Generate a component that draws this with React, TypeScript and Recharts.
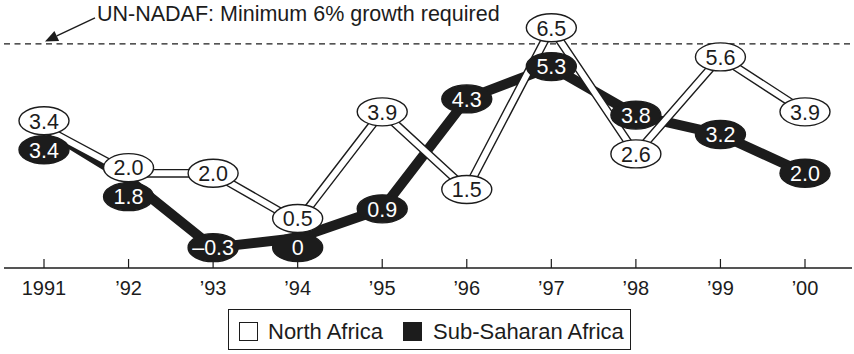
import React from 'react';
import { LineChart, Line, XAxis, YAxis, ReferenceLine, LabelList } from 'recharts';

// ---- data -------------------------------------------------------------
const years = ['1991', '\u201992', '\u201993', '\u201994', '\u201995', '\u201996', '\u201997', '\u201998', '\u201999', '\u201900'];
const northAfrica = [3.4, 2.0, 2.0, 0.5, 3.9, 1.5, 6.5, 2.6, 5.6, 3.9];
const subSaharanAfrica = [3.4, 1.8, -0.3, 0, 0.9, 4.3, 5.3, 3.8, 3.2, 2.0];
const seriesNames = ['North Africa', 'Sub-Saharan Africa'];
const targetGrowth = 6;
const targetNote = 'UN-NADAF: Minimum 6% growth required';

const data = years.map((year, i) => ({
  year,
  north: northAfrica[i],
  sub: subSaharanAfrica[i],
}));

// ---- layout / style ---------------------------------------------------
const FONT = '"Liberation Sans", Arial, Helvetica, sans-serif';
const INK = '#1c1c1c';
const CHART_W = 854;
const CHART_H = 310;
const MARGIN = { top: 0, right: 2, bottom: 0, left: 4 };
const X_AXIS_H = 42;
const Y_DOMAIN: [number, number] = [-0.93, 7.36];
const PLOT_H = CHART_H - MARGIN.top - MARGIN.bottom - X_AXIS_H;
const PX_PER_UNIT = PLOT_H / (Y_DOMAIN[1] - Y_DOMAIN[0]);

const fmt = (v: number) =>
  v === 0 ? '0' : (v < 0 ? '\u2013' : '') + Math.abs(v).toFixed(1);

// Vertical nudge so the two value badges of one year don't sit on each other.
const BADGE_GAP = 29;
function badgeShift(index: number, series: 'north' | 'sub'): number {
  const n = northAfrica[index];
  const s = subSaharanAfrica[index];
  if (n === undefined || s === undefined) return 0;
  const sep = Math.abs(n - s) * PX_PER_UNIT;
  if (sep >= BADGE_GAP) return 0;
  const need = BADGE_GAP - sep;
  const northIsUpper = n >= s;
  const isUpper = series === 'north' ? northIsUpper : !northIsUpper;
  return isUpper ? -need / 4 : (3 * need) / 4;
}

const Badge = (props: any) => {
  const { value, index, dark, series } = props;
  const vb = props.viewBox;
  const x = vb && typeof vb.x === 'number' ? vb.x + (vb.width || 0) / 2 : props.x;
  const y0 = vb && typeof vb.y === 'number' ? vb.y + (vb.height || 0) / 2 : props.y;
  if (typeof x !== 'number' || typeof y0 !== 'number') return null;
  const y = y0 + badgeShift(index, series);
  return (
    <g>
      <ellipse
        cx={x}
        cy={y}
        rx={25}
        ry={14}
        fill={dark ? INK : '#fff'}
        stroke={INK}
        strokeWidth={1.4}
      />
      <text
        x={x}
        y={y}
        dy="0.36em"
        textAnchor="middle"
        fontSize={21.5}
        fontFamily={FONT}
        fill={dark ? '#fff' : INK}
      >
        {fmt(Number(value))}
      </text>
    </g>
  );
};

const YearTick = (props: any) => {
  const { x, y, payload } = props;
  return (
    <g>
      <line x1={x} x2={x} y1={y - 9} y2={y} stroke={INK} strokeWidth={1.2} />
      <text
        x={x}
        y={y + 27}
        textAnchor="middle"
        fontSize={20}
        fontFamily={FONT}
        fill={INK}
      >
        {payload.value}
      </text>
    </g>
  );
};

// Note with an arrow pointing at the target line.
const TargetNote = (props: any) => {
  const vb = props.viewBox || {};
  const lx = typeof vb.x === 'number' ? vb.x : MARGIN.left;
  const ly = typeof vb.y === 'number' ? vb.y : 44;
  const tip = { x: lx + 41, y: ly - 2.5 };
  const tail = { x: lx + 91, y: ly - 26 };
  const dx = tip.x - tail.x;
  const dy = tip.y - tail.y;
  const len = Math.hypot(dx, dy);
  const ux = dx / len;
  const uy = dy / len;
  const headLen = 13;
  const headHalf = 5.5;
  const bx = tip.x - ux * headLen;
  const by = tip.y - uy * headLen;
  const px = -uy * headHalf;
  const py = ux * headHalf;
  return (
    <g>
      <line x1={tail.x} y1={tail.y} x2={bx} y2={by} stroke={INK} strokeWidth={1.4} />
      <polygon
        points={`${tip.x},${tip.y} ${bx + px},${by + py} ${bx - px},${by - py}`}
        fill={INK}
      />
      <text
        x={lx + 93}
        y={ly - 23.3}
        fontSize={21.5}
        fontFamily={FONT}
        fill={INK}
      >
        {props.text}
      </text>
    </g>
  );
};

const legendItems = [
  { name: seriesNames[0], fill: '#fff', left: 10, textLeft: 39 },
  { name: seriesNames[1], fill: INK, left: 174, textLeft: 204 },
];

export default function App() {
  return (
    <div
      style={{
        position: 'absolute',
        left: 0,
        top: 0,
        width: 854,
        height: 354,
        background: '#fff',
        overflow: 'hidden',
      }}
    >
      <LineChart width={CHART_W} height={CHART_H} data={data} margin={MARGIN}>
        <XAxis
          dataKey="year"
          interval={0}
          height={X_AXIS_H}
          padding={{ left: 40, right: 47 }}
          axisLine={{ stroke: INK, strokeWidth: 1.6 }}
          tickLine={false}
          tickSize={0}
          tickMargin={0}
          tick={<YearTick />}
        />
        <YAxis
          type="number"
          domain={Y_DOMAIN}
          allowDataOverflow
          width={0}
          tick={false}
          tickLine={false}
          axisLine={{ stroke: INK, strokeWidth: 1.5 }}
        />
        <ReferenceLine
          y={targetGrowth}
          stroke={INK}
          strokeWidth={1.3}
          strokeDasharray="6 4.5"
          label={<TargetNote text={targetNote} />}
        />
        {/* Sub-Saharan Africa: heavy black line */}
        <Line
          dataKey="sub"
          stroke={INK}
          strokeWidth={10}
          strokeLinejoin="round"
          dot={false}
          activeDot={false}
          isAnimationActive={false}
        />
        {/* North Africa: outlined white line */}
        <Line
          dataKey="north"
          stroke={INK}
          strokeWidth={8.8}
          strokeLinejoin="miter"
          dot={false}
          activeDot={false}
          isAnimationActive={false}
        />
        <Line
          dataKey="north"
          stroke="#fff"
          strokeWidth={6}
          strokeLinejoin="miter"
          dot={false}
          activeDot={false}
          isAnimationActive={false}
        />
        {/* value badges above all lines */}
        <Line
          dataKey="sub"
          stroke="none"
          dot={false}
          activeDot={false}
          isAnimationActive={false}
        >
          <LabelList dataKey="sub" content={(p: any) => <Badge {...p} dark series="sub" />} />
        </Line>
        <Line
          dataKey="north"
          stroke="none"
          dot={false}
          activeDot={false}
          isAnimationActive={false}
        >
          <LabelList dataKey="north" content={(p: any) => <Badge {...p} series="north" />} />
        </Line>
      </LineChart>

      <div
        style={{
          position: 'absolute',
          left: 228,
          top: 309,
          width: 403,
          height: 41,
          boxSizing: 'border-box',
          border: `1.5px solid ${INK}`,
          fontFamily: FONT,
          fontSize: 22,
          color: INK,
        }}
      >
        {legendItems.map((it) => (
          <React.Fragment key={it.name}>
            <div
              style={{
                position: 'absolute',
                left: it.left,
                top: 11.5,
                width: 19,
                height: 19,
                boxSizing: 'border-box',
                border: `1.3px solid ${INK}`,
                background: it.fill,
              }}
            />
            <div
              style={{
                position: 'absolute',
                left: it.textLeft,
                top: 11,
                lineHeight: '22px',
                whiteSpace: 'nowrap',
              }}
            >
              {it.name}
            </div>
          </React.Fragment>
        ))}
      </div>
    </div>
  );
}
